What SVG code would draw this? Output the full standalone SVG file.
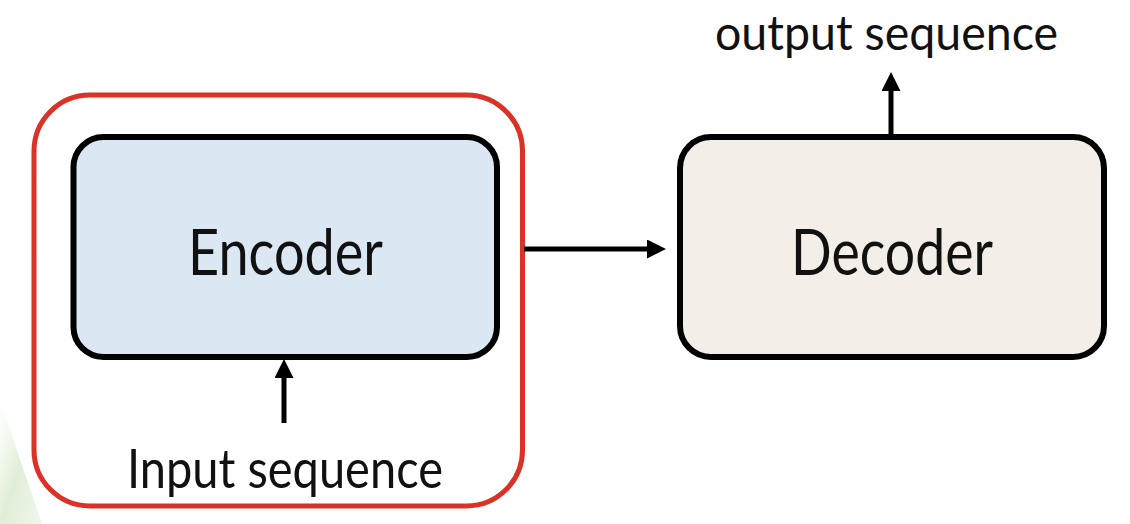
<svg xmlns="http://www.w3.org/2000/svg" width="1130" height="524" viewBox="0 0 1130 524">
  <defs>
    <style>
      .box { stroke: #000; stroke-width: 6; }
      .label { font-family: Lato, "Open Sans", "Liberation Sans", sans-serif; fill: #111; }
      .conn { stroke: #000; stroke-width: 5; fill: none; }
    </style>
    <marker id="arrow" markerUnits="userSpaceOnUse" markerWidth="20" markerHeight="20" viewBox="0 0 20 20" refX="8" refY="9.5" orient="auto">
      <path d="M0,0 L19,9.5 L0,19 z" fill="#000"/>
    </marker>
    <linearGradient id="greenFade" x1="0" y1="0" x2="1" y2="1">
      <stop offset="0" stop-color="#e9f3e2" stop-opacity="0"/>
      <stop offset="0.5" stop-color="#dcecd2" stop-opacity="0.9"/>
      <stop offset="1" stop-color="#e6f1de" stop-opacity="0.6"/>
    </linearGradient>
  </defs>
  <rect width="1130" height="524" fill="#ffffff"/>
  <path d="M0,400 Q20,460 42,524 L0,524 Z" fill="url(#greenFade)"/>

  <g id="encoder-group">
    <rect x="34" y="95" width="488.5" height="411" rx="56" ry="56" fill="none" stroke="#dc3126" stroke-width="5"/>
  </g>

  <g id="encoder">
    <rect class="box" x="73.5" y="137" width="423.5" height="220" rx="30" ry="30" fill="#dbe7f3"/>
    <text class="label" x="188" y="275" font-size="63" textLength="195" lengthAdjust="spacingAndGlyphs">Encoder</text>
  </g>

  <g id="decoder">
    <rect class="box" x="680" y="137" width="424" height="220" rx="31" ry="31" fill="#f3eee7"/>
    <text class="label" x="791" y="275" font-size="63" textLength="202" lengthAdjust="spacingAndGlyphs">Decoder</text>
  </g>

  <g id="input-label">
    <text class="label" x="127" y="488" font-size="54" textLength="316" lengthAdjust="spacingAndGlyphs">Input sequence</text>
  </g>

  <g id="output-label">
    <text class="label" x="715" y="50" font-size="49" textLength="343" lengthAdjust="spacingAndGlyphs">output sequence</text>
  </g>

  <g id="connectors">
    <line class="conn" x1="524" y1="249" x2="655" y2="249" marker-end="url(#arrow)"/>
    <line class="conn" x1="284" y1="423" x2="284" y2="370" marker-end="url(#arrow)"/>
    <line class="conn" x1="891" y1="135" x2="891" y2="83" marker-end="url(#arrow)"/>
  </g>
</svg>
